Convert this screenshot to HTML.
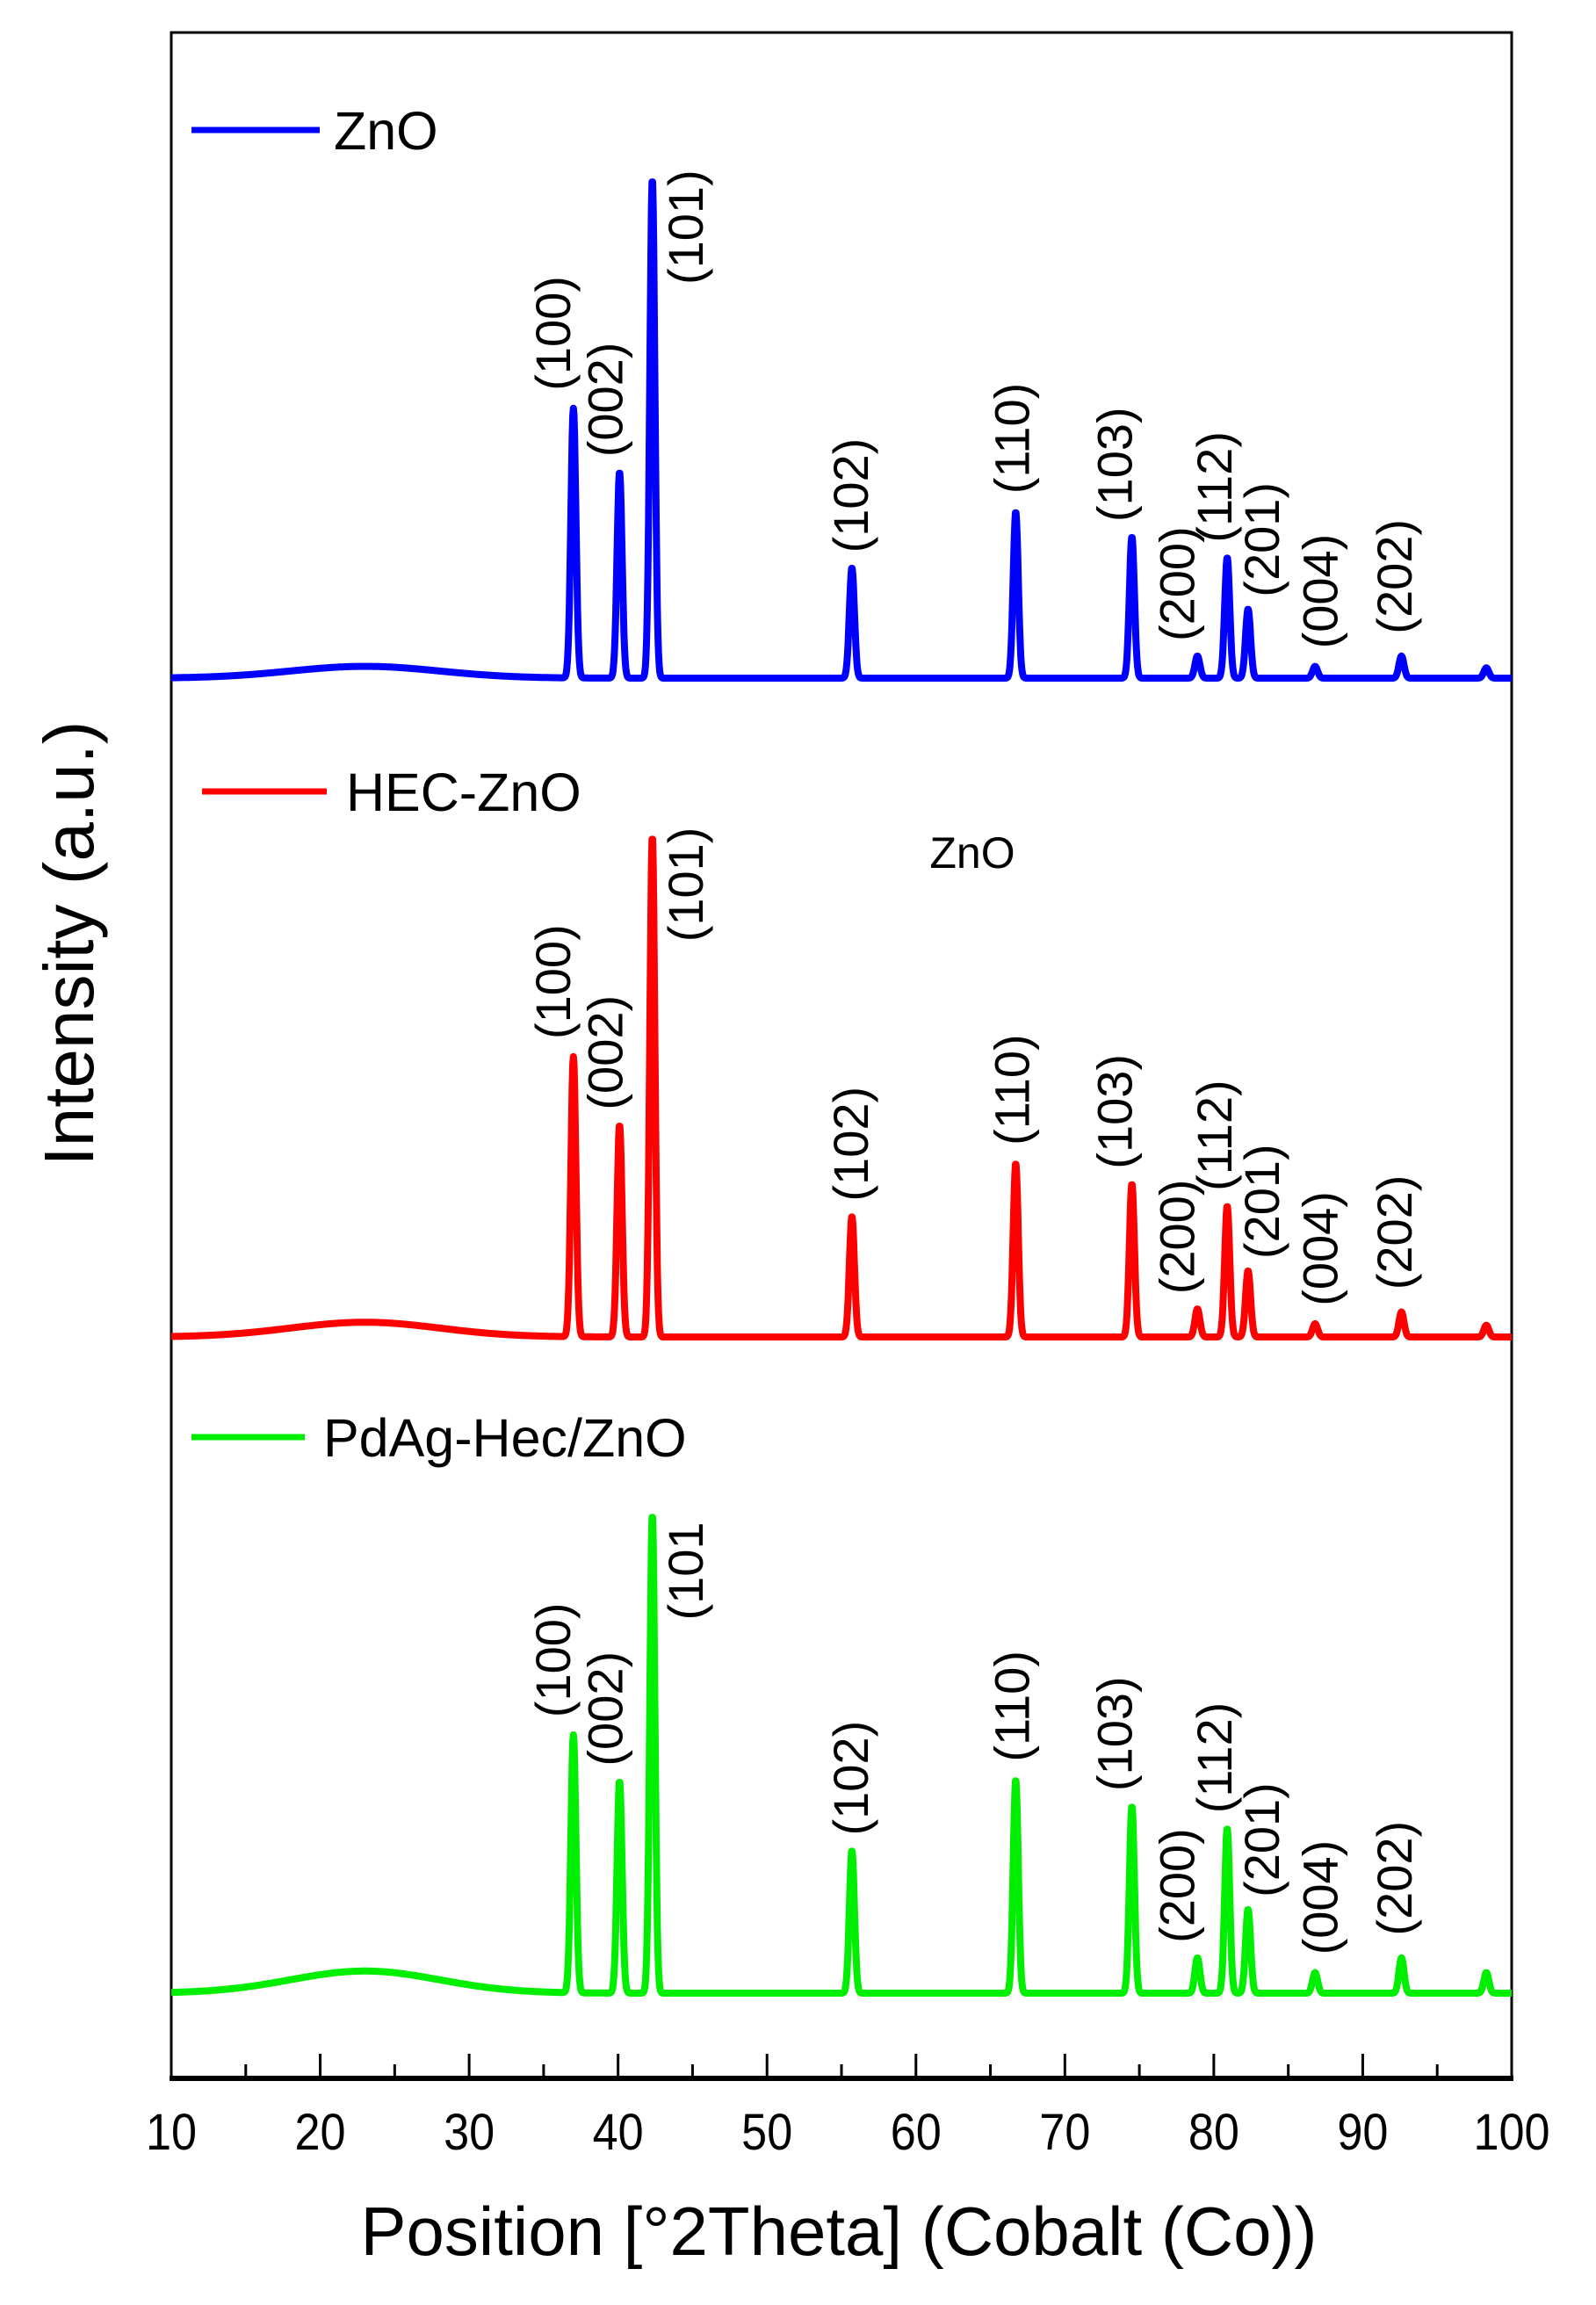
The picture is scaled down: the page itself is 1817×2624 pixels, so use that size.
<!DOCTYPE html>
<html><head><meta charset="utf-8"><style>
html,body{margin:0;padding:0;background:#fff;}
svg{display:block;}
text{font-family:"Liberation Sans",Arial,sans-serif;fill:#000;}
</style></head><body>
<svg id="chart" width="1817" height="2624" viewBox="0 0 1817 2624" xmlns="http://www.w3.org/2000/svg">
<g id="plot"></g>
</svg>
<script>
// ---- data ----
const peakPos = [37.0, 40.1, 42.3, 55.7, 66.7, 74.5, 78.9, 80.9, 82.3, 86.8, 92.6, 98.3];
const peakLabels = ["(100)","(002)","(101)","(102)","(110)","(103)","(200)","(112)","(201)","(004)","(202)",""];
const labelPos = [35.6, 39.1, 44.5, 55.6, 66.4, 73.3, 77.5, 80.0, 83.2, 87.1, 92.1, 0];
const znoHeights = [183, 140, 339, 75, 113, 96, 15, 82, 47, 8, 15, 7];
const hecHeights = [190, 144, 340, 82, 118, 104, 19, 89, 45, 9, 17, 8];
const pdagHeights = [175, 144, 325, 97, 145, 127, 24, 112, 57, 14, 24, 14];
const humpHeights = [8, 10, 15];
const seriesNames = ["ZnO", "HEC-ZnO", "PdAg-Hec/ZnO"];
const xTicks = [10,20,30,40,50,60,70,80,90,100];

// ---- layout ----
const S = 1.678;
const L = 195, R = 1721, T = 37, B = 2366;
const baselines = [772, 1522, 2269];
const colors = ["#0000ff", "#ff0000", "#00ee00"];
const X = d => L + (d - 10) * (R - L) / 90;
const NS = "http://www.w3.org/2000/svg";
const plot = document.getElementById('plot');
function mk(tag, attrs, parent){ const e=document.createElementNS(NS,tag); for(const k in attrs) e.setAttribute(k,attrs[k]); (parent||plot).appendChild(e); return e; }

// frame
const frame = mk('path',{d:`M${L},${B} L${L},${T} L${R},${T} L${R},${B}`,fill:'none',stroke:'#000','stroke-width':3});


const xaxis = mk('line',{x1:L-2,x2:R+2,y1:B,y2:B,stroke:'#000','stroke-width':6});



// ticks
for(let d=10; d<=100; d+=5){
  const major = d%10===0;
  const t = mk('line',{x1:X(d),x2:X(d),y1:B,y2:B-(major?28:16),stroke:'#000','stroke-width':3});
  
  
}
xTicks.forEach(v=>{
  const t = mk('text',{x:X(v),y:2447,'font-size':58,'text-anchor':'middle',transform:`translate(${X(v)*0.1},0) scale(0.9,1)`});
  t.textContent = v;
  
  
});
const xt = mk('text',{x:955,y:2567,'font-size':78,'text-anchor':'middle'});
xt.textContent = "Position [°2Theta] (Cobalt (Co))";


const yt = mk('text',{x:0,y:0,'font-size':80,'text-anchor':'middle',transform:'translate(106,1074) rotate(-90)'});
yt.textContent = "Intensity (a.u.)";



// series
const allHeights = [znoHeights, hecHeights, pdagHeights];
const labelGap = [12, 10, -72, 10, 12, 10, 10, 10, 8, 12, 15, 0];
allHeights.forEach((hs, si)=>{
  const base = baselines[si];
  let pts = [];
  for(let d=10; d<=100.001; d+=0.04){
    let v = humpHeights[si]*Math.exp(-Math.pow((d-23)/5,2)/2);
    for(let i=0;i<peakPos.length;i++){
      const s = 0.17;
      v += hs[i]*Math.exp(-Math.pow((d-peakPos[i])/s,2)/2);
    }
    pts.push(X(d).toFixed(1)+','+(base - v*S).toFixed(1));
  }
  const p = mk('polyline',{points:pts.join(' '),fill:'none',stroke:colors[si],'stroke-width':8,'stroke-linejoin':'round'});
  
  
  for(let i=0;i<peakLabels.length;i++){
    if(!peakLabels[i]) continue;
    let txt = peakLabels[i];
    if(si===2 && i===2) txt = "(101";
    const yb = base - (hs[i] + labelGap[i]) * S;
    const lx = X(labelPos[i]) + 20;
    const t = mk('text',{x:0,y:0,'font-size':56,transform:`translate(${lx.toFixed(1)},${yb.toFixed(1)}) rotate(-90)`});
    t.textContent = txt;
    
    
  }
});

// legends
const legendY = [148, 901, 1636];
const legendX1 = [218, 230, 218];
const legendX2 = [364, 372, 347];
const legendTX = [380, 394, 368];
seriesNames.forEach((n,si)=>{
  const l = mk('line',{x1:legendX1[si],x2:legendX2[si],y1:legendY[si],y2:legendY[si],stroke:colors[si],'stroke-width':7});
  
  
  const t = mk('text',{x:legendTX[si],y:legendY[si]+22,'font-size':61});
  t.textContent = n;
  
  
});
const zt = mk('text',{x:1107,y:988,'font-size':50,'text-anchor':'middle'});
zt.textContent = "ZnO";


</script>
</body></html>
